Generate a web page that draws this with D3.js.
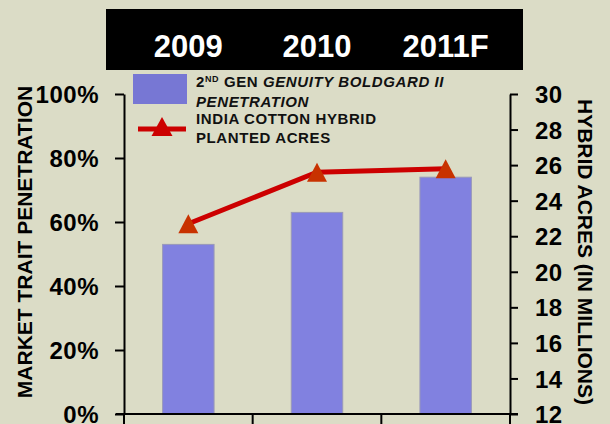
<!DOCTYPE html>
<html><head><meta charset="utf-8">
<script src="https://cdn.jsdelivr.net/npm/d3@7/dist/d3.min.js"></script>
<style>
html,body{margin:0;padding:0;background:#dbdcc6;}
svg{display:block;font-family:"Liberation Sans",Arial,sans-serif;font-weight:bold;}
</style></head><body>
<svg id="c" width="610" height="424"></svg>
<script>
const years = ["2009","2010","2011F"];
const penetration = [53, 63, 74];          // % (left axis, bars)
const hybridAcres = [22.7, 25.6, 25.8];    // millions (right axis, line)
const leftTicks = [0,20,40,60,80,100];
const rightTicks = [12,14,16,18,20,22,24,26,28,30];

const svg = d3.select("#c");
svg.append("rect").attr("width",610).attr("height",424).attr("fill","#dbdcc6");

const x = d3.scaleBand().domain(years).range([124,510]).paddingInner(0.6).paddingOuter(0.3);
const yL = d3.scaleLinear().domain([0,100]).range([414,94]);
const yR = d3.scaleLinear().domain([12,30]).range([414,94]);

// black header
svg.append("rect").attr("x",106).attr("y",9).attr("width",417).attr("height",61).attr("fill","#000");
svg.append("g").selectAll("text").data(years).join("text")
  .attr("x",d=>x(d)+x.bandwidth()/2).attr("y",57)
  .attr("text-anchor","middle").attr("fill","#fff")
  .attr("font-size",31).text(d=>d);

// bars
svg.append("g").selectAll("rect").data(years).join("rect")
  .attr("x",d=>x(d)).attr("width",x.bandwidth())
  .attr("y",(d,i)=>yL(penetration[i])).attr("height",(d,i)=>yL(0)-yL(penetration[i]))
  .attr("fill","#8181e0").attr("stroke","#9a9ab8").attr("stroke-width",1);

// line
const line = d3.line().x((d,i)=>x(years[i])+x.bandwidth()/2).y(d=>yR(d));
svg.append("path").datum(hybridAcres).attr("d",line)
  .attr("fill","none").attr("stroke","#cc0000").attr("stroke-width",5);
const tri = (cx,cy,w,h)=>`M${cx},${cy-h/2}L${cx+w/2},${cy+h/2}L${cx-w/2},${cy+h/2}Z`;
svg.append("g").selectAll("path").data(hybridAcres).join("path")
  .attr("d",(d,i)=>tri(x(years[i])+x.bandwidth()/2, yR(d), 20, 19))
  .attr("fill","#c83200");

// left axis
const gL = svg.append("g").attr("transform","translate(124,0)")
  .call(d3.axisLeft(yL).tickValues(leftTicks).tickSize(9).tickSizeOuter(0).tickPadding(16).tickFormat(d=>d+"%"));
gL.selectAll("text").attr("font-size",24).attr("font-family","'Liberation Sans',Arial,sans-serif").attr("font-weight","bold").attr("fill","#000").attr("letter-spacing",0.5).attr("dy","0.36em");

// right axis
const gR = svg.append("g").attr("transform","translate(510,0)")
  .call(d3.axisRight(yR).tickValues(rightTicks).tickSize(8).tickSizeOuter(0).tickPadding(17));
gR.selectAll("text").attr("font-size",24).attr("font-family","'Liberation Sans',Arial,sans-serif").attr("font-weight","bold").attr("fill","#000").attr("letter-spacing",0.5).attr("dy","0.36em");

[gL,gR].forEach(g=>{g.selectAll("path,line").attr("stroke","#000").attr("stroke-width",2);});

// bottom axis
const bounds = years.map(d=>x(d)-x.step()*x.paddingOuter()).concat([x.range()[1]]);
svg.append("line").attr("x1",116).attr("x2",518).attr("y1",414).attr("y2",414).attr("stroke","#000").attr("stroke-width",2);
svg.append("g").selectAll("line").data(bounds).join("line")
  .attr("x1",d=>d).attr("x2",d=>d).attr("y1",414).attr("y2",426).attr("stroke","#000").attr("stroke-width",2);

// axis titles
svg.append("text").attr("transform","translate(32,242) rotate(-90)").attr("text-anchor","middle")
  .attr("font-size",21).attr("fill","#000").text("MARKET TRAIT PENETRATION");
svg.append("text").attr("transform","translate(578,252) rotate(90)").attr("text-anchor","middle")
  .attr("font-size",21).attr("fill","#000").text("HYBRID ACRES (IN MILLIONS)");

// legend
svg.append("rect").attr("x",133).attr("y",74).attr("width",54).attr("height",30).attr("fill","#7777d4");
const lg = svg.append("g").attr("font-size",15).attr("fill","#111").attr("letter-spacing",0.6);
const l1 = lg.append("text").attr("x",196).attr("y",87);
l1.append("tspan").text("2");
l1.append("tspan").attr("font-size",9).attr("dy",-5).text("ND");
l1.append("tspan").attr("dy",5).text(" GEN ");
l1.append("tspan").attr("font-style","italic").text("GENUITY BOLDGARD II");
lg.append("text").attr("x",196).attr("y",107).attr("font-style","italic").text("PENETRATION");
lg.append("text").attr("x",196).attr("y",124).text("INDIA COTTON HYBRID");
lg.append("text").attr("x",196).attr("y",143).text("PLANTED ACRES");
svg.append("line").attr("x1",138).attr("x2",186).attr("y1",129).attr("y2",129).attr("stroke","#cc0000").attr("stroke-width",5);
svg.append("path").attr("d",tri(162,126.5,21,19)).attr("fill","#cc0000");
</script>
</body></html>
